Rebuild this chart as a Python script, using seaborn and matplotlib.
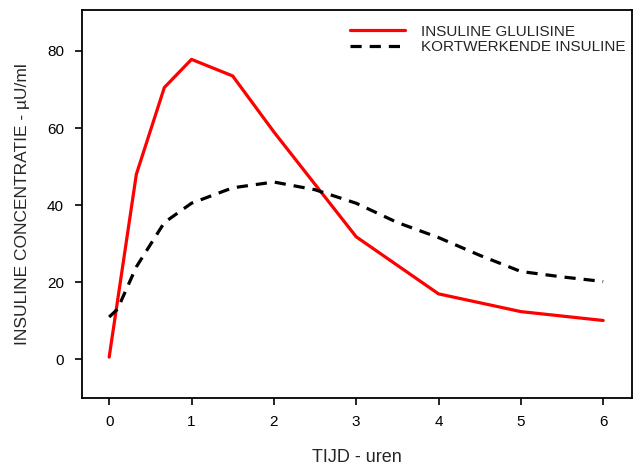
import matplotlib
matplotlib.use("Agg")
import matplotlib.pyplot as plt
import seaborn as sns
import pandas as pd

# Data
glulisine_time = [0, 0.33, 0.67, 1, 1.5, 2, 3, 4, 5, 6]
glulisine_conc = [0.6, 48, 70.5, 77.8, 73.5, 59, 31.8, 17, 12.4, 10.1]

regular_time = [0, 0.1, 0.33, 0.67, 1, 1.5, 2, 2.5, 3, 3.5, 4, 4.5, 5, 5.5, 6]
regular_conc = [11, 13, 24, 35.5, 40.5, 44.5, 46, 44, 40.5, 35.5, 31.6, 27, 22.8, 21.4, 20.2]

series_labels = ["INSULINE GLULISINE", "KORTWERKENDE INSULINE"]
x_ticks = [0, 1, 2, 3, 4, 5, 6]
y_ticks = [0, 20, 40, 60, 80]
x_label = "TIJD - uren"
y_label = "INSULINE CONCENTRATIE - µU/ml"

sns.set_style("ticks")
plt.rcParams["font.family"] = ["Liberation Sans", "DejaVu Sans"]

df = pd.DataFrame({
    "t": glulisine_time + regular_time,
    "c": glulisine_conc + regular_conc,
    "serie": [series_labels[0]] * len(glulisine_time) + [series_labels[1]] * len(regular_time),
})

fig = plt.figure(figsize=(6.34, 4.68), dpi=100)
ax = fig.add_axes([82 / 634, 1 - 398 / 468, (632 - 82) / 634, (398 - 10) / 468])

sns.lineplot(data=df[df.serie == series_labels[0]], x="t", y="c", color="#ff0000",
             linewidth=2.3, ax=ax, label=series_labels[0], sort=False)
sns.lineplot(data=df[df.serie == series_labels[1]], x="t", y="c", color="black",
             linewidth=2.3, ax=ax, label=series_labels[1], sort=False,
             dashes=False)
ax.lines[1].set_dashes((3.5, 2.5))
ax.lines[1].set_dash_capstyle("butt")

ax.set_xlim(-0.33, 6.35)
ax.set_ylim(-10, 90.6)
ax.set_xticks(x_ticks)
ax.set_yticks(y_ticks)
ax.tick_params(axis="x", length=5, width=1.2, pad=7, labelsize=11, colors="black")
ax.tick_params(axis="y", length=5, width=1.2, pad=8, labelsize=11, colors="black")
for s in ax.spines.values():
    s.set_visible(True)
    s.set_linewidth(1.3)
    s.set_color("black")

ax.set_xlabel(x_label, fontsize=13, labelpad=15)
ax.set_ylabel(y_label, fontsize=12.5, labelpad=12)

leg = ax.legend(loc="upper left", bbox_to_anchor=(0.488, 0.962), frameon=False,
                fontsize=11, handlelength=3.6, handletextpad=1.0, labelspacing=0.1,
                borderaxespad=0, borderpad=0)
leg.get_lines()[1].set_dashes((3.5, 2.5))
for line in leg.get_lines():
    line.set_linewidth(2.3)

fig.savefig("out.png", dpi=100)
